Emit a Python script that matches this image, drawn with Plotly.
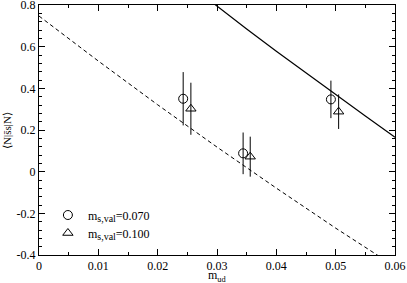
import plotly.graph_objects as go

# data points
m_ud_070 = [0.0243, 0.0344, 0.0492]
nssn_070 = [0.350, 0.088, 0.347]
err_070 = [0.128, 0.100, 0.090]

m_ud_100 = [0.0256, 0.0356, 0.0505]
nssn_100 = [0.302, 0.072, 0.288]
err_100 = [0.125, 0.096, 0.083]

# fit curves
dash_x = [0.0, 0.01, 0.02, 0.03, 0.04, 0.05, 0.057, 0.060]
dash_y = [0.747, 0.531, 0.321, 0.118, -0.079, -0.271, -0.400, -0.455]

solid_x = [0.025, 0.0297, 0.035, 0.040, 0.045, 0.050, 0.055, 0.060]
solid_y = [0.905, 0.800, 0.685, 0.578, 0.473, 0.369, 0.267, 0.165]

x_ticks = [0, 0.01, 0.02, 0.03, 0.04, 0.05, 0.06]
x_ticktext = ["0", "0.01", "0.02", "0.03", "0.04", "0.05", "0.06"]
y_ticks = [-0.4, -0.2, 0, 0.2, 0.4, 0.6, 0.8]
y_ticktext = ["-0.4", "-0.2", "0", "0.2", "0.4", "0.6", "0.8"]

FONT = "Times New Roman, Liberation Serif, serif"
SUB = "<sub><span style='font-size:10px'>s,val</span></sub>"

fig = go.Figure()
fig.add_trace(go.Scatter(x=dash_x, y=dash_y, mode="lines",
                         line=dict(color="black", width=1, dash="4px,3px"),
                         showlegend=False, hoverinfo="skip"))
fig.add_trace(go.Scatter(x=solid_x, y=solid_y, mode="lines",
                         line=dict(color="black", width=1.2),
                         showlegend=False, hoverinfo="skip"))
fig.add_trace(go.Scatter(x=m_ud_070, y=nssn_070, mode="markers",
                         name="m" + SUB + "=0.070", legend="legend",
                         marker=dict(symbol="circle-open", size=9, color="black",
                                     line=dict(width=1, color="black")),
                         error_y=dict(type="data", array=err_070, width=0,
                                      thickness=1, color="black")))
fig.add_trace(go.Scatter(x=m_ud_100, y=nssn_100, mode="markers",
                         name="m" + SUB + "=0.100", legend="legend2",
                         marker=dict(symbol="triangle-up-open", size=9, color="black",
                                     line=dict(width=1, color="black")),
                         error_y=dict(type="data", array=err_100, width=0,
                                      thickness=1, color="black")))

axis_common = dict(
    showgrid=False, zeroline=False, showline=True, linecolor="black", linewidth=1,
    mirror="allticks", ticks="inside", ticklen=6, tickcolor="black", tickwidth=1,
    tickfont=dict(family=FONT, size=12, color="black"),
    ticklabeloverflow="allow", automargin=False,
)

fig.update_xaxes(range=[0, 0.06], tickvals=x_ticks, ticktext=x_ticktext,
                 minor=dict(dtick=0.005, tick0=0, ticks="inside", ticklen=3,
                            tickcolor="black"),
                 **axis_common)
fig.update_yaxes(range=[-0.4, 0.8], tickvals=y_ticks, ticktext=y_ticktext,
                 minor=dict(dtick=0.04, tick0=0, ticks="inside", ticklen=3,
                            tickcolor="black"),
                 **axis_common)

fig.add_annotation(text="m<sub>ud</sub>", xref="paper", yref="paper",
                   x=0.5, y=-0.112, xanchor="center", yanchor="bottom", showarrow=False,
                   borderpad=0, yshift=-2, font=dict(family=FONT, size=12, color="black"))
fig.add_annotation(text="⟨N|s\u0304s|N⟩", xref="paper", yref="paper",
                   x=-0.09, y=0.5, xanchor="center", yanchor="middle", showarrow=False,
                   textangle=-90, font=dict(family=FONT, size=11, color="black"))

legend_common = dict(xanchor="left", yanchor="middle", bgcolor="rgba(0,0,0,0)",
                     font=dict(family=FONT, size=12, color="black"), itemwidth=30)
fig.update_layout(
    width=407, height=283, autosize=False,
    margin=dict(l=39, r=12, t=5, b=28, autoexpand=False),
    paper_bgcolor="white", plot_bgcolor="white",
    font=dict(family=FONT, size=12, color="black"),
    showlegend=True,
    legend=dict(x=0.025, y=0.16, **legend_common),
    legend2=dict(x=0.025, y=0.088, **legend_common),
)

fig.write_html("out.html", config={"displayModeBar": False},
               post_script="document.body.style.margin='0';document.body.style.overflow='hidden';")
